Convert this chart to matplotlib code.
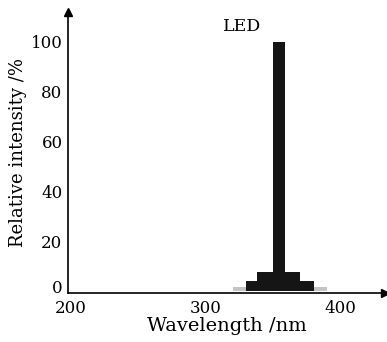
import matplotlib.pyplot as plt
import matplotlib.transforms as mtransforms

# spectrum: bin edges (nm) and relative intensity (%)
bin_left = [320, 330, 338, 350, 359, 370, 380]
bin_right = [330, 338, 350, 359, 370, 380, 390]
intensity = [1.6, 4.2, 7.8, 100, 7.8, 4.2, 1.6]
x_ticks = [200, 300, 400]
y_ticks = [0, 20, 40, 60, 80, 100]

plt.rcParams['font.family'] = 'DejaVu Serif'
plt.rcParams['font.size'] = 12

fig = plt.figure(figsize=(3.87, 3.42), dpi=100)
ax = fig.add_axes([0.176, 0.143, 0.819, 0.822])

widths = [r - l for l, r in zip(bin_left, bin_right)]
colors = ['#c4c4c4' if v < 3 else '#151515' for v in intensity]
ax.bar(bin_left, intensity, width=widths, align='edge', color=colors,
       linewidth=0, zorder=2)

ax.set_xlim(198, 433)
ax.set_ylim(-0.8, 112)
ax.set_xticks(x_ticks)
ax.set_yticks(y_ticks)
ax.tick_params(length=0)
ax.tick_params(axis='x', pad=5)
ax.tick_params(axis='y', pad=4)

# lift the "0" a little so it clears the "200" below it
zero_label = ax.get_yticklabels()[0]
zero_label.set_transform(zero_label.get_transform() +
                         mtransforms.ScaledTranslation(0, 3 / 72, fig.dpi_scale_trans))

for side in ['top', 'right']:
    ax.spines[side].set_visible(False)
for side in ['left', 'bottom']:
    ax.spines[side].set_linewidth(1.2)

# arrow heads on the axes
ax.plot(1, 0, '>', color='black', markersize=6, transform=ax.transAxes, clip_on=False)
ax.plot(0, 1, '^', color='black', markersize=6, transform=ax.transAxes, clip_on=False)

ax.set_xlabel('Wavelength /nm', fontsize=14, labelpad=0)
ax.set_ylabel('Relative intensity /%', fontsize=13, labelpad=3)
ax.text(327, 106, 'LED', fontsize=12.5, ha='center', va='center')

fig.savefig('out.png', dpi=100)
